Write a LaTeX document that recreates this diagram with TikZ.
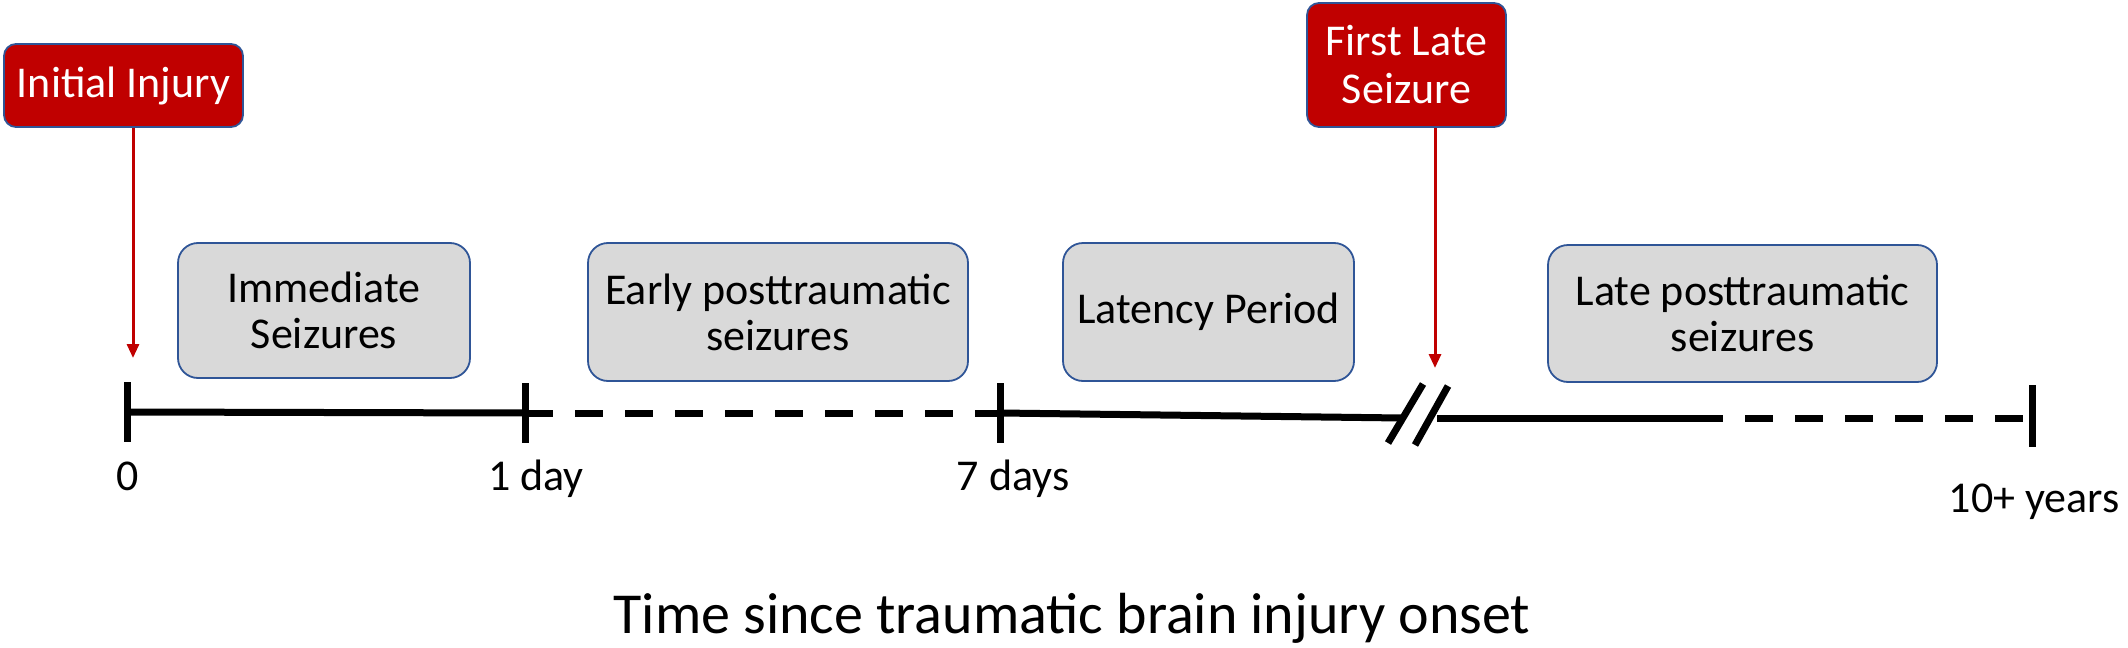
\documentclass[tikz,border=0pt]{standalone}
\usepackage{fontspec}
\setmainfont{Carlito}
\usetikzlibrary{arrows.meta}
\definecolor{injred}{HTML}{C00000}
\definecolor{boxblue}{HTML}{2F5597}
\definecolor{boxgray}{HTML}{D9D9D9}
\tikzset{
  redbox/.style={fill=injred, draw=boxblue, line width=0.9pt, rounded corners=6pt,
    text=white, align=center, inner sep=0pt, font=\fontsize{22}{24}\selectfont},
  graybox/.style={fill=boxgray, draw=boxblue, line width=0.9pt, rounded corners=10pt,
    text=black, align=center, inner sep=0pt, font=\fontsize{22}{23}\selectfont},
  redarrow/.style={draw=injred, line width=1.5pt, -{Triangle[length=7pt,width=6pt]}},
  axis/.style={line width=3.5pt, black},
  dashaxis/.style={line width=3.5pt, black, dash pattern=on 14pt off 11pt},
  ticklabel/.style={anchor=base, inner sep=0pt, font=\fontsize{22}{24}\selectfont},
}
\begin{document}
\begin{tikzpicture}[x=0.5pt, y=-0.5pt]
\useasboundingbox (0,0) rectangle (2128,647);
% boxes
\node[redbox, minimum width=119.5pt, minimum height=41.5pt] (init) at (123.5,85.5) {Initial Injury};
\node[redbox, minimum width=99.5pt, minimum height=62pt] (first) at (1406.5,65) {First Late\\Seizure};
\node[graybox, minimum width=146pt, minimum height=67.5pt] (imm) at (324,310.5) {Immediate\\Seizures};
\node[graybox, minimum width=190pt, minimum height=69pt] (early) at (778,312) {Early posttraumatic\\seizures};
\node[graybox, minimum width=145.5pt, minimum height=69pt] (lat) at (1208.5,312) {Latency Period};
\node[graybox, minimum width=194.5pt, minimum height=68.5pt] (late) at (1742.5,313.5) {Late posttraumatic\\seizures};
% timeline coordinates
\coordinate (t0) at (127,412);
\coordinate (t1) at (525,413);
\coordinate (t7) at (1000,413);
\coordinate (bkL) at (1402,418);
\coordinate (bkR) at (1437,418);
\coordinate (sol) at (1723,418);
\coordinate (dstart) at (1745,418);
\coordinate (tend) at (2032,418);
% axis segments
\draw[axis] (t0) -- (t1);
\draw[dashaxis] (t1) -- (t7);
\draw[axis] (t7) -- (bkL);
\draw[axis] (bkR) -- (sol);
\draw[dashaxis] (dstart) -- (tend);
% ticks
\coordinate (t0a) at (127,382); \coordinate (t0b) at (127,442);
\coordinate (t1a) at (525,383); \coordinate (t1b) at (525,443);
\coordinate (t7a) at (1000,383); \coordinate (t7b) at (1000,443);
\coordinate (tea) at (2032,385); \coordinate (teb) at (2032,447);
\draw[axis] (t0a) -- (t0b);
\draw[axis] (t1a) -- (t1b);
\draw[axis] (t7a) -- (t7b);
\draw[axis] (tea) -- (teb);
% break marks
\coordinate (s1a) at (1388,443); \coordinate (s1b) at (1423,384);
\coordinate (s2a) at (1415,445); \coordinate (s2b) at (1448,386);
\draw[axis] (s1a) -- (s1b);
\draw[axis] (s2a) -- (s2b);
% arrows
\coordinate (a0) at (133,358);
\coordinate (a1) at (1435,368);
\draw[redarrow] (init.south -| a0) -- (a0);
\draw[redarrow] (first.south -| a1) -- (a1);
% labels
\node[ticklabel] (l0) at (128,490) {0};
\node[ticklabel] (l1) at (536,490) {1 day};
\node[ticklabel] (l7) at (1013,490) {7 days};
\node[ticklabel] (l10) at (2034,512) {10+ years};
\node[anchor=base, inner sep=0pt, font=\fontsize{29}{32}\selectfont] (title) at (1072,633) {Time since traumatic brain injury onset};
\end{tikzpicture}
\end{document}
